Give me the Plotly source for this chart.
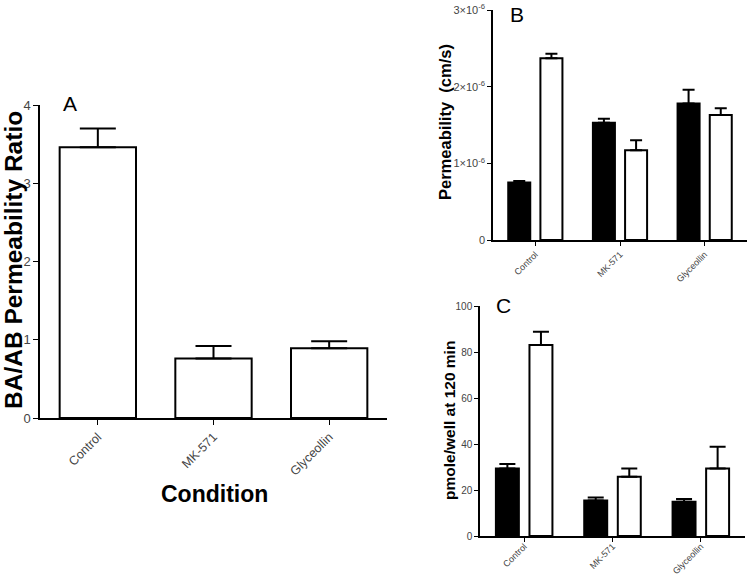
import plotly.graph_objects as go

# ---------------- data ----------------
categories = ["Control", "MK-571", "Glyceollin"]

# Panel A: BA/AB permeability ratio
ratio_vals = [3.46, 0.76, 0.89]
ratio_err = [0.24, 0.16, 0.09]

# Panel B: permeability (cm/s)
perm_black = [0.75e-6, 1.53e-6, 1.78e-6]
perm_black_err = [0.02e-6, 0.05e-6, 0.18e-6]
perm_white = [2.37e-6, 1.17e-6, 1.63e-6]
perm_white_err = [0.06e-6, 0.13e-6, 0.09e-6]
perm_tickvals = [0, 1e-6, 2e-6, 3e-6]
perm_ticktext = ["0", "1×10<sup>-6</sup>", "2×10<sup>-6</sup>", "3×10<sup>-6</sup>"]

# Panel C: pmole/well at 120 min
pm_black = [29.4, 15.4, 14.9]
pm_black_err = [1.9, 1.3, 1.2]
pm_white = [83.0, 25.8, 29.4]
pm_white_err = [5.8, 3.6, 9.4]

FONT = "Liberation Sans, Arial, sans-serif"
W, H = 750, 577

fig = go.Figure()

def bar(x, y, err, fill, xa, ya, width, offset, cap):
    return go.Bar(
        x=x, y=y, xaxis=xa, yaxis=ya, width=width, offset=offset,
        marker=dict(color=fill, line=dict(color="black", width=2)),
        error_y=dict(type="data", array=err, arrayminus=[0] * len(err), symmetric=False,
                     color="black", thickness=2, width=cap),
        showlegend=False,
    )

fig.add_trace(bar(categories, ratio_vals, ratio_err, "white", "x", "y", 0.66, -0.33, 18))
fig.add_trace(bar(categories, perm_black, perm_black_err, "black", "x2", "y2", 0.26, -0.32, 6))
fig.add_trace(bar(categories, perm_white, perm_white_err, "white", "x2", "y2", 0.26, 0.06, 6))
fig.add_trace(bar(categories, pm_black, pm_black_err, "black", "x3", "y3", 0.26, -0.32, 8))
fig.add_trace(bar(categories, pm_white, pm_white_err, "white", "x3", "y3", 0.26, 0.06, 8))

def px(x0, x1):
    return [x0 / W, x1 / W]

def py(ybot, ytop):
    return [(H - ybot) / H, (H - ytop) / H]

def axis(size, **kw):
    d = dict(showline=True, linecolor="black", linewidth=1.5, ticks="outside",
             ticklen=5, tickcolor="black", showgrid=False, zeroline=False,
             automargin=False,
             tickfont=dict(family=FONT, color="#444", size=size))
    d.update(kw)
    return d

fig.update_layout(
    template="none",
    width=W, height=H, margin=dict(l=0, r=0, t=0, b=0, pad=0, autoexpand=False),
    paper_bgcolor="white", plot_bgcolor="white", barmode="overlay",
    font=dict(family=FONT, color="black"),
    xaxis=axis(12.5, domain=px(40, 387), anchor="y", range=[-0.5, 2.5], tickangle=-45),
    yaxis=axis(13, domain=py(418, 105), anchor="x", range=[0, 4], tickvals=[0, 1, 2, 3, 4]),
    xaxis2=axis(9, domain=px(493, 747), anchor="y2", range=[-0.5, 2.5], tickangle=-45, ticklen=4),
    yaxis2=axis(11, domain=py(240, 10), anchor="x2", range=[0, 3e-6], tickvals=perm_tickvals,
                ticktext=perm_ticktext, ticklen=4),
    xaxis3=axis(9, domain=px(480, 745), anchor="y3", range=[-0.5, 2.5], tickangle=-45,
                ticklen=4, ticklabelstandoff=-4),
    yaxis3=axis(10, domain=py(536, 306), anchor="x3", range=[0, 100],
                tickvals=[0, 20, 40, 60, 80, 100], ticklen=4),
)

def ann(text, x, y, size, bold=False, angle=0):
    fig.add_annotation(
        text=f"<b>{text}</b>" if bold else text, x=x / W, y=(H - y) / H,
        xref="paper", yref="paper", showarrow=False, textangle=angle,
        font=dict(family=FONT, size=size, color="black"), xanchor="center", yanchor="middle",
    )

ann("A", 70, 103, 21)
ann("B", 517, 14, 21)
ann("C", 503, 305, 21)
ann("BA/AB Permeability Ratio", 13, 260, 24.5, bold=True, angle=-90)
ann("Condition", 214, 494, 23, bold=True)
ann("Permeability\u00a0\u00a0(cm/s)", 445, 122, 16.5, bold=True, angle=-90)
ann("pmole/well at 120 min", 449, 421, 15.5, bold=True, angle=-90)

fig.write_html(
    "out.html",
    config={"displayModeBar": False},
    post_script="document.body.style.margin='0';document.body.style.overflow='hidden';",
)
